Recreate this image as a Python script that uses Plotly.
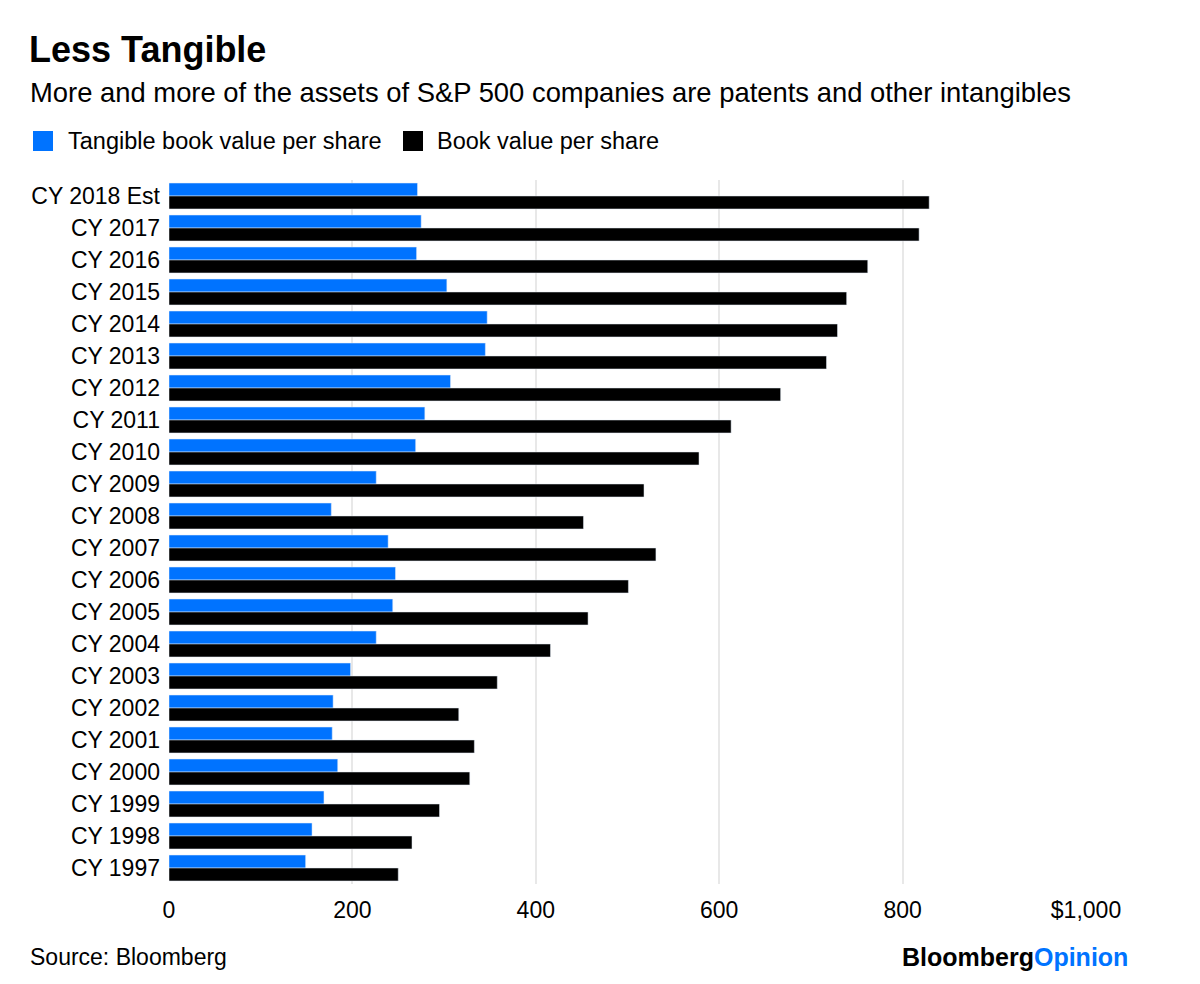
import plotly.graph_objects as go

categories = ["CY 2018 Est", "CY 2017", "CY 2016", "CY 2015", "CY 2014", "CY 2013",
              "CY 2012", "CY 2011", "CY 2010", "CY 2009", "CY 2008", "CY 2007",
              "CY 2006", "CY 2005", "CY 2004", "CY 2003", "CY 2002", "CY 2001",
              "CY 2000", "CY 1999", "CY 1998", "CY 1997"]
tangible_bvps = [271, 275, 270, 303, 347, 345, 307, 279, 269, 226, 177, 239,
                 247, 244, 226, 198, 179, 178, 184, 169, 156, 149]
book_bvps = [829, 818, 762, 739, 729, 717, 667, 613, 578, 518, 452, 531,
             501, 457, 416, 358, 316, 333, 328, 295, 265, 250]
tick_vals = [0, 200, 400, 600, 800, 1000]
tick_text = ["0", "200", "400", "600", "800", "$1,000"]

BLUE = "#0073ff"
FONT = "Liberation Sans, Arial, Helvetica, sans-serif"

# page offset (body margin) compensation
OFF = 8
L, T = 169 - OFF, 180 - OFF
PW, PH = 917, 704


def px(xp):
    return (xp - OFF - L) / PW


def py(yp):
    return 1 - (yp - OFF - T) / PH


fig = go.Figure()
fig.add_trace(go.Bar(y=categories, x=tangible_bvps, orientation="h",
                     name="Tangible book value per share", marker_color=BLUE))
fig.add_trace(go.Bar(y=categories, x=book_bvps, orientation="h",
                     name="Book value per share", marker_color="#000000"))

fig.update_layout(
    width=1200, height=984,
    paper_bgcolor="white", plot_bgcolor="white",
    margin=dict(l=L, r=1200 - L - PW, t=T, b=984 - T - PH),
    barmode="group", bargap=0.19, bargroupgap=0,
    showlegend=False,
    font=dict(family=FONT, size=23, color="#000000"),
    xaxis=dict(range=[0, 1000], tickvals=tick_vals, ticktext=tick_text,
               showgrid=True, gridcolor="#e8e8e8", gridwidth=2,
               zeroline=False, showline=False, ticks="",
               tickfont=dict(size=23), ticklabelstandoff=10),
    yaxis=dict(autorange="reversed", showgrid=False, ticks="",
               tickfont=dict(size=23), ticklabelstandoff=8),
)

# Title, subtitle
fig.add_annotation(text="<b>Less Tangible</b>", xref="paper", yref="paper",
                   x=px(27), y=py(49), xanchor="left", yanchor="middle",
                   showarrow=False, font=dict(size=36, family=FONT))
fig.add_annotation(text="More and more of the assets of S&P 500 companies are patents and other intangibles",
                   xref="paper", yref="paper", x=px(28), y=py(92),
                   xanchor="left", yanchor="middle", showarrow=False,
                   font=dict(size=27.4, family=FONT))

# Custom legend
legend_items = [("Tangible book value per share", BLUE, 33, 66),
                ("Book value per share", "#000000", 403, 435)]
for label, col, sx, tx in legend_items:
    fig.add_shape(type="rect", xref="paper", yref="paper",
                  x0=px(sx), x1=px(sx + 20),
                  y0=py(151), y1=py(131),
                  fillcolor=col, line=dict(width=0))
    fig.add_annotation(text=label, xref="paper", yref="paper",
                       x=px(tx), y=py(141),
                       xanchor="left", yanchor="middle", showarrow=False,
                       font=dict(size=23.5, family=FONT))

# Footer
fig.add_annotation(text="Source: Bloomberg", xref="paper", yref="paper",
                   x=px(28), y=py(957), xanchor="left", yanchor="middle",
                   showarrow=False, font=dict(size=23, family=FONT))
fig.add_annotation(text="<b>Bloomberg</b><b><span style='color:%s'>Opinion</span></b>" % BLUE,
                   xref="paper", yref="paper",
                   x=px(1130), y=py(957), xanchor="right", yanchor="middle",
                   showarrow=False, font=dict(size=25, family=FONT))

fig.write_html("out.html")
